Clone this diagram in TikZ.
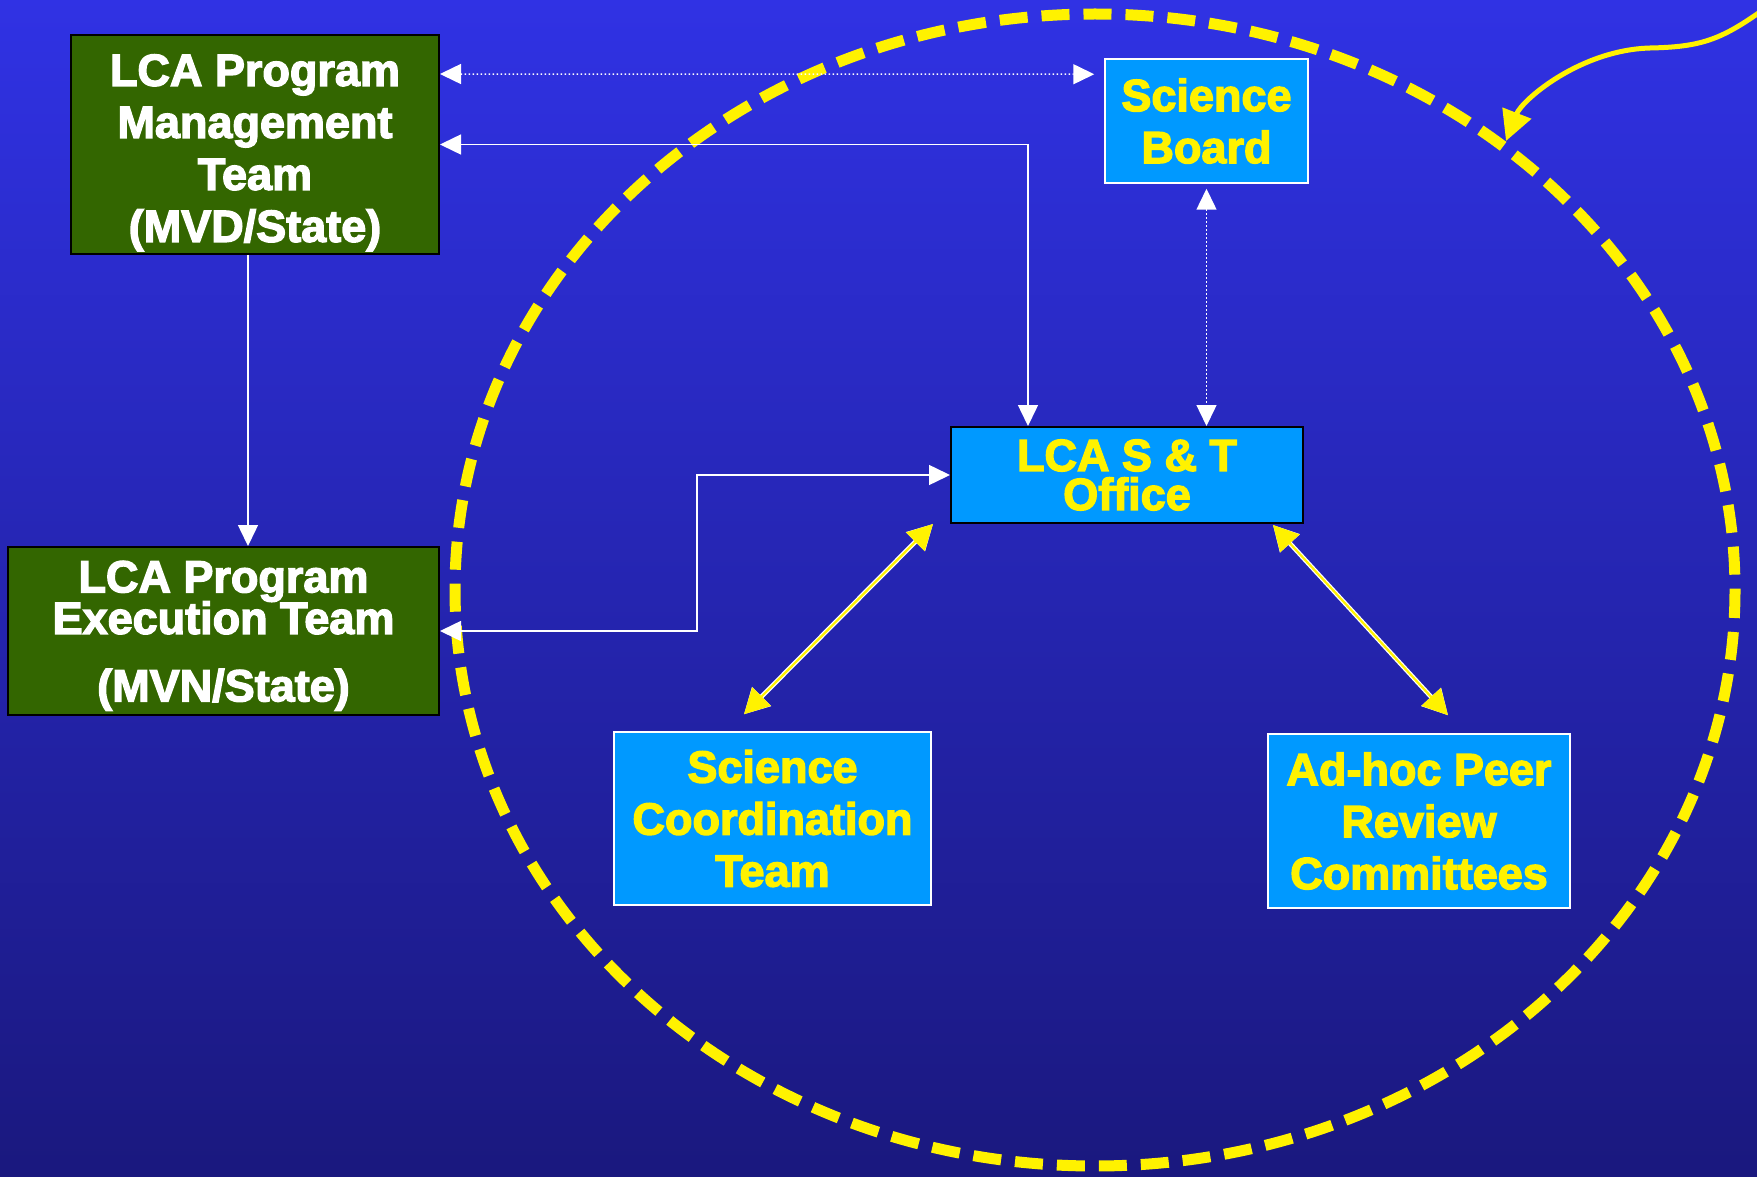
\documentclass[tikz,border=0pt]{standalone}
\usepackage{fontspec}
\setmainfont{Liberation Sans}
\newfontfamily\heavyfont{Liberation Sans Bold}[FakeBold=3]
\usetikzlibrary{arrows.meta,calc}
\definecolor{bgtop}{RGB}{48,50,228}
\definecolor{bgbot}{RGB}{26,24,126}
\definecolor{boxgreen}{RGB}{51,102,0}
\definecolor{boxblue}{RGB}{0,153,255}
\tikzset{
  wtip/.tip={Triangle[length=21pt,width=20pt]},
  ytip/.tip={Triangle[length=25pt,width=26pt]},
  ptip/.tip={Triangle[length=30pt,width=30pt]}
}
\begin{document}
\begin{tikzpicture}[x=1pt,y=-1pt,
  lbl/.style={font=\fontsize{45}{52}\selectfont\heavyfont, align=center, inner sep=0pt, rectangle},
  greenbox/.style={lbl, fill=boxgreen, draw=black, line width=2pt, text=white},
  bluebox/.style={lbl, fill=boxblue, draw=white, line width=1.5pt, text=yellow},
  wline/.style={draw=white, line width=1.5pt, fill=none},
  wdot/.style={draw=white, line width=1.5pt, dash pattern=on 1.5pt off 2.5pt},
  ylw/.style={draw=yellow, line width=2.2pt, ytip-ytip, preaction={draw=white, line width=4.6pt}},
  ring/.style={draw=yellow, line width=11pt, dash pattern=on 28pt off 14pt}
]
\useasboundingbox (0,0) rectangle (1757,1177);
\shade[top color=bgtop, bottom color=bgbot] (0,0) rectangle (1757,1177);

% dashed ring
\draw[ring] (1095,590) ellipse [x radius=640, y radius=576];

% boxes
\node[greenbox, minimum width=368pt, minimum height=219pt] (mgmt) at (255,144.5)
  {\rule{0pt}{48pt}LCA Program\\Management\\Team\\(MVD/State)};
\node[greenbox, minimum width=431pt, minimum height=168pt] (exe) at (223.5,631)
  {\rule{0pt}{41pt}LCA Program\\[-10.5pt]Execution Team\\[15.5pt](MVN/State)};
\node[bluebox, minimum width=203pt, minimum height=124pt] (sb) at (1206.5,121)
  {Science\\Board};
\node[bluebox, draw=black, line width=2pt, minimum width=352pt, minimum height=96pt,
  font=\fontsize{45}{39}\selectfont\heavyfont] (st) at (1127,475)
  {LCA S \& T\\Office};
\node[bluebox, minimum width=317pt, minimum height=173pt] (sct) at (772.5,818.5)
  {Science\\Coordination\\Team};
\node[bluebox, minimum width=302pt, minimum height=174pt] (ah) at (1419,821)
  {Ad-hoc Peer\\Review\\Committees};

% white connectors
\draw[wdot, wtip-wtip] ($(mgmt.north east)+(0,40)$) -- ($(sb.north west)+(-10,16)$);
\draw[wline, wtip-wtip] (mgmt.east) -| ($(st.north west)+(78,0)$);
\draw[wdot, wtip-wtip] ($(sb.south)+(0,5)$) -- (sb.south |- st.north);
\coordinate (m1) at ($(mgmt.south)+(-7,0)$);
\draw[wline, -wtip] (m1) -- (m1 |- exe.north);
\draw[wline, wtip-wtip] (exe.east) -- ++(257,0) |- (st.west);

% yellow connectors
\draw[ylw] ($(st.south west)+(-17,0)$) -- ($(sct.north)+(-28.5,-17)$);
\draw[ylw] ($(st.south east)+(-31,1)$) -- ($(ah.north)+(29,-18)$);

% curved pointer
\coordinate (cvs) at (1760,12);
\coordinate (cve) at (1506,141);
\draw[draw=yellow, line width=5pt, -ptip]
  (cvs) .. controls (1720,40) and (1700,47) .. (1650,48)
  .. controls (1580,50) and (1522,100) .. (cve);
\end{tikzpicture}
\end{document}
